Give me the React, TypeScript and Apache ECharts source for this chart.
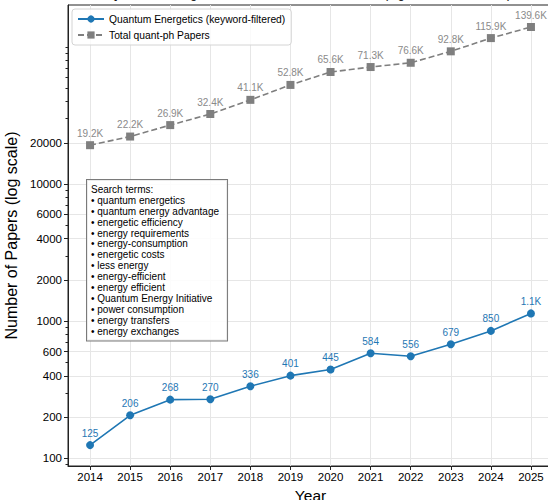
import React, { useEffect, useRef } from "react";
import * as echarts from "echarts";

const FONT = "'Liberation Sans', Arial, Helvetica, sans-serif";

// Publication counts per year
const years = [2014, 2015, 2016, 2017, 2018, 2019, 2020, 2021, 2022, 2023, 2024, 2025];
const energeticsPapers = [125, 206, 268, 270, 336, 401, 445, 584, 556, 679, 850, 1140];
const totalQuantPh = [19200, 22200, 26900, 32400, 41100, 52800, 65600, 71300, 76600, 92800, 115900, 139600];

// Log-axis ticks
const yLabelTicks = [100, 200, 400, 600, 1000, 2000, 4000, 6000, 10000, 20000];
const yMinorTicks = [
  90, 300, 500, 700, 800, 900, 3000, 5000, 7000, 8000, 9000,
  30000, 40000, 50000, 60000, 70000, 80000, 90000, 100000,
];

const searchTerms = [
  "quantum energetics",
  "quantum energy advantage",
  "energetic efficiency",
  "energy requirements",
  "energy-consumption",
  "energetic costs",
  "less energy",
  "energy-efficient",
  "energy efficient",
  "Quantum Energy Initiative",
  "power consumption",
  "energy transfers",
  "energy exchanges",
];

const BLUE = "#1f77b4";
const GRAY = "#7f7f7f";

const kFormat = (v: number) => (v / 1000).toFixed(1) + "K";

export default function App() {
  const ref = useRef<HTMLDivElement>(null);

  useEffect(() => {
    if (!ref.current) return;
    const chart = echarts.init(ref.current, null, { renderer: "svg" });

    const yRange = { min: 88, max: 202000 };

    chart.setOption({
      animation: false,
      backgroundColor: "#ffffff",
      textStyle: { fontFamily: FONT },
      title: {
        text: "Quantum Energetics Publication Growth on arXiv (log scale, 2014–2025)",
        left: 310,
        textAlign: "center",
        top: -13,
        padding: 0,
        textStyle: { fontFamily: FONT, fontSize: 12.5, fontWeight: "normal", color: "#000" },
      },
      grid: {
        left: 68,
        top: 5,
        right: 7,
        bottom: 34,
        outerBoundsMode: "none",
        containLabel: false,
        show: true,
        borderColor: "#222",
        borderWidth: 1,
        backgroundColor: "transparent",
      },
      legend: {
        orient: "vertical",
        left: 72,
        top: 9,
        padding: [5, 6, 5, 5],
        itemGap: 6,
        itemWidth: 26,
        itemHeight: 9,
        borderColor: "#d4d4d4",
        borderWidth: 1,
        borderRadius: 3,
        backgroundColor: "rgba(255,255,255,0.8)",
        textStyle: { fontFamily: FONT, fontSize: 10.3, color: "#000" },
        data: ["Quantum Energetics (keyword-filtered)", "Total quant-ph Papers"],
      },
      xAxis: {
        type: "value",
        min: 2013.45,
        max: 2025.55,
        name: "Year",
        nameLocation: "middle",
        nameGap: 17,
        nameTextStyle: { fontFamily: FONT, fontSize: 15.5, color: "#000" },
        axisLine: { show: true, lineStyle: { color: "#222", width: 1 } },
        axisTick: { show: true, length: 4, customValues: years, lineStyle: { color: "#222" } },
        axisLabel: {
          customValues: years,
          formatter: (v: number) => String(v),
          fontFamily: FONT,
          fontSize: 11.5,
          color: "#000",
          margin: 5,
        },
        splitLine: { show: true, lineStyle: { color: "#e6e6e6", width: 1 } },
      },
      yAxis: [
        {
          type: "log",
          ...yRange,
          name: "Number of Papers (log scale)",
          nameLocation: "middle",
          nameGap: 39,
          nameTextStyle: { fontFamily: FONT, fontSize: 16, color: "#000" },
          axisLine: { show: true, lineStyle: { color: "#222", width: 1 } },
          axisTick: { show: true, length: 4, customValues: yLabelTicks, lineStyle: { color: "#222" } },
          axisLabel: {
            customValues: yLabelTicks,
            formatter: (v: number) => String(v),
            fontFamily: FONT,
            fontSize: 11.5,
            color: "#000",
            margin: 6,
          },
          splitLine: { show: true, lineStyle: { color: "#e6e6e6", width: 1 } },
        },
        {
          type: "log",
          ...yRange,
          position: "left",
          axisLine: { show: false },
          axisTick: { show: true, length: 2.5, customValues: yMinorTicks, lineStyle: { color: "#222" } },
          axisLabel: { show: false },
          splitLine: { show: false },
        },
      ],
      series: [
        {
          name: "Total quant-ph Papers",
          type: "line",
          yAxisIndex: 0,
          data: years.map((y, i) => [y, totalQuantPh[i]]),
          symbol: "rect",
          symbolSize: 8,
          itemStyle: { color: GRAY },
          lineStyle: { color: GRAY, width: 1.6, type: [6, 3] },
          label: {
            show: true,
            position: "top",
            distance: 3,
            formatter: (p: any) => kFormat(p.value[1]),
            fontFamily: FONT,
            fontSize: 10,
            color: "#8a8a8a",
          },
          z: 2,
        },
        {
          name: "Quantum Energetics (keyword-filtered)",
          type: "line",
          yAxisIndex: 0,
          data: years.map((y, i) => [y, energeticsPapers[i]]),
          symbol: "circle",
          symbolSize: 8,
          itemStyle: { color: BLUE },
          lineStyle: { color: BLUE, width: 1.6 },
          label: {
            show: true,
            position: "top",
            distance: 3,
            formatter: (p: any) => {
              const v = p.value[1];
              return v < 1000 ? String(v) : kFormat(v);
            },
            fontFamily: FONT,
            fontSize: 10,
            color: BLUE,
          },
          z: 3,
        },
      ],
      graphic: [
        {
          type: "text",
          left: 86,
          top: 179,
          z: 10,
          style: {
            text: "Search terms:\n" + searchTerms.map((t) => "• " + t).join("\n"),
            fontFamily: FONT,
            fontSize: 10,
            lineHeight: 10.9,
            fill: "#000",
            backgroundColor: "rgba(255,255,255,0.85)",
            borderColor: "#7a7a7a",
            borderWidth: 1,
            padding: [4, 8, 4, 4],
          },
        },
      ],
    });

    return () => chart.dispose();
  }, []);

  return (
    <div
      style={{
        position: "fixed",
        left: 0,
        top: 0,
        width: 548,
        height: 500,
        overflow: "hidden",
        background: "#fff",
      }}
    >
      <div ref={ref} style={{ width: 560, height: 500 }} />
    </div>
  );
}
